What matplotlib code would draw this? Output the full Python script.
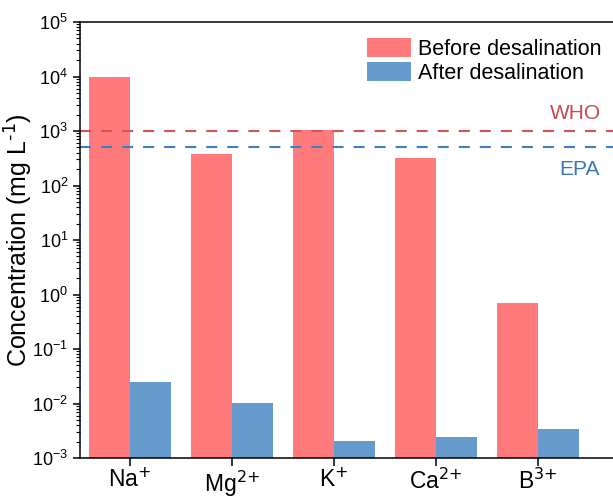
import numpy as np
import matplotlib
matplotlib.use("Agg")
import matplotlib.pyplot as plt

plt.rcParams['font.family'] = ['Liberation Sans', 'DejaVu Sans']
plt.rcParams['mathtext.default'] = 'regular'

# ion concentrations, mg/L
ions = [r'Na$^{\text{+}}$', r'Mg$^{\text{2+}}$', r'K$^{\text{+}}$',
        r'Ca$^{\text{2+}}$', r'B$^{\text{3+}}$']
before = [10000, 375, 1050, 320, 0.71]
after = [0.025, 0.0102, 0.00205, 0.00246, 0.0034]
who_limit = 1000
epa_limit = 500

red = '#FF7B7B'
blue = '#6699CC'

fig = plt.figure(figsize=(6.13, 5.0), dpi=100)
ax = fig.add_axes([80/613, 42/500, 1 - 80/613, 436/500])

x = np.arange(len(ions))
w = 0.40
ax.bar(x - w/2, before, w, color=red, label='Before desalination')
ax.bar(x + w/2, after, w, color=blue, label='After desalination')

ax.axhline(who_limit, color='#D65356', lw=1.5, dashes=(5.3, 4.8))
ax.axhline(epa_limit, color='#3D7EC4', lw=1.5, dashes=(5.3, 4.8))
ax.annotate('WHO', xy=(4.37, who_limit), xytext=(0, 6), textcoords='offset points',
            ha='center', va='bottom', fontsize=15, color='#C9484D')
ax.annotate('EPA', xy=(4.41, epa_limit), xytext=(0, -9), textcoords='offset points',
            ha='center', va='top', fontsize=15, color='#3A78B8')

ax.set_yscale('log')
ax.set_ylim(1e-3, 1e5)
ax.set_xlim(-0.49, 4.735)
ax.set_xticks(x)
ax.set_xticklabels(ions, fontsize=16.5)
ax.set_yticks([10.0**k for k in range(-3, 6)])
ax.tick_params(axis='y', labelsize=13)
ax.set_ylabel(r'Concentration (mg L$^{\text{-1}}$)', fontsize=18, labelpad=-2)

ax.spines['right'].set_visible(False)
for s in ['left', 'bottom', 'top']:
    ax.spines[s].set_linewidth(1.1)
ax.tick_params(which='major', direction='out', length=5, width=1.1)
ax.tick_params(which='minor', direction='out', length=3, width=0.8)
ax.tick_params(axis='x', length=6, pad=1.5)

ax.legend(loc='upper left', bbox_to_anchor=(367/613, 1 - 38/500),
          bbox_transform=fig.transFigure, frameon=False, fontsize=15.5,
          handlelength=2.05, handleheight=1.0, handletextpad=0.33,
          labelspacing=0.1, borderpad=0, borderaxespad=0)

fig.savefig('out.png', dpi=100)
